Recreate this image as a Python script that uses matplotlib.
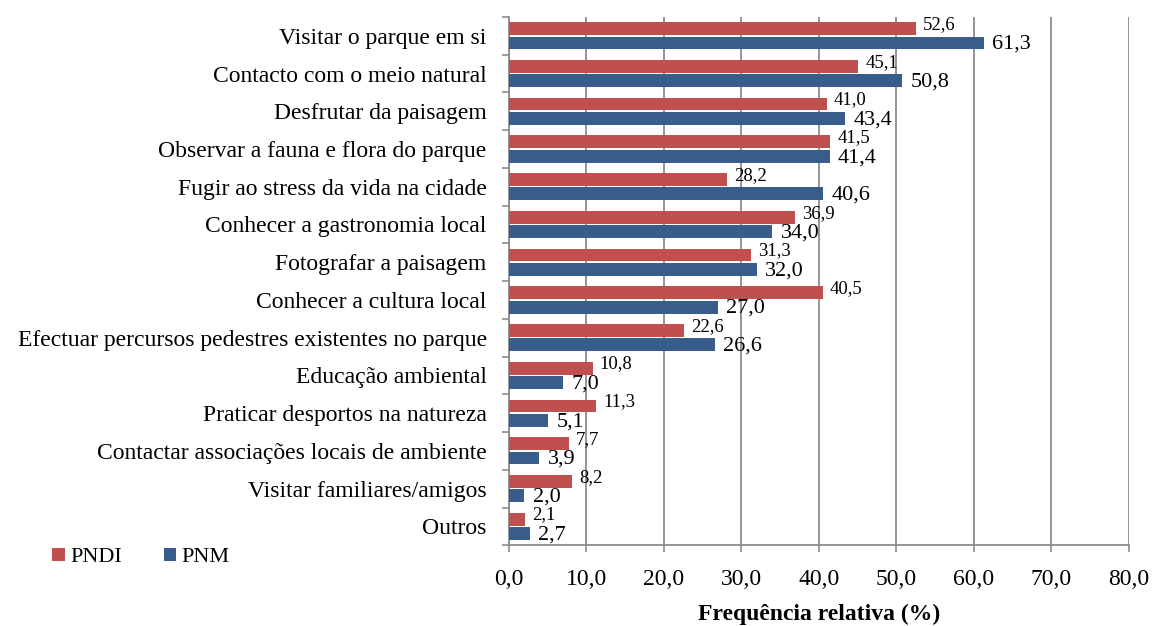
import numpy as np
import matplotlib.pyplot as plt

plt.rcParams['font.family'] = ['Liberation Serif', 'DejaVu Serif']

categorias = ["Visitar o parque em si", "Contacto com o meio natural", "Desfrutar da paisagem",
              "Observar a fauna e flora do parque", "Fugir ao stress da vida na cidade",
              "Conhecer a gastronomia local", "Fotografar a paisagem", "Conhecer a cultura local",
              "Efectuar percursos pedestres existentes no parque", "Educação ambiental",
              "Praticar desportos na natureza", "Contactar associações locais de ambiente",
              "Visitar familiares/amigos", "Outros"]
pndi = [52.6, 45.1, 41.0, 41.5, 28.2, 36.9, 31.3, 40.5, 22.6, 10.8, 11.3, 7.7, 8.2, 2.1]
pnm = [61.3, 50.8, 43.4, 41.4, 40.6, 34.0, 32.0, 27.0, 26.6, 7.0, 5.1, 3.9, 2.0, 2.7]

vermelho = '#C0504D'
azul = '#385D8A'
cinza = '#8C8C8C'

fig = plt.figure(figsize=(11.54, 6.26), dpi=100)
ax = fig.add_axes([0.441, 0.129, 0.537, 0.844])

y = np.arange(len(categorias))
h = 0.34
ax.barh(y - 0.19, pndi, height=h, color=vermelho, label='PNDI', zorder=3)
ax.barh(y + 0.19, pnm, height=h, color=azul, label='PNM', zorder=3)

def fmt(v):
    return f"{v:.1f}".replace('.', ',')

for i in range(len(categorias)):
    ax.annotate(fmt(pndi[i]), (pndi[i], y[i] - 0.19), xytext=(5, 3), textcoords='offset points',
                fontsize=13.5, va='center', ha='left', zorder=4)
    ax.annotate(fmt(pnm[i]), (pnm[i], y[i] + 0.19), xytext=(6, -1), textcoords='offset points',
                fontsize=16, va='center', ha='left', zorder=4)

ax.set_ylim(len(categorias) - 0.5, -0.5)
ax.set_xlim(0, 80)
ax.set_xticks(np.arange(0, 81, 10))
ax.set_xticklabels([fmt(v) for v in np.arange(0, 81, 10)], fontsize=17)
ax.set_yticks(y)
ax.set_yticklabels(categorias, fontsize=17)
ax.set_yticks(np.arange(-0.5, len(categorias), 1), minor=True)
ax.tick_params(axis='y', which='major', length=0, pad=16)
ax.tick_params(axis='y', which='minor', length=5, color=cinza, width=1.2)
ax.tick_params(axis='x', length=5, color=cinza, width=1.2, pad=12)

ax.grid(axis='x', color=cinza, linewidth=1.3, zorder=0)
for s in ['top', 'right']:
    ax.spines[s].set_visible(False)
for s in ['left', 'bottom']:
    ax.spines[s].set_color(cinza)
    ax.spines[s].set_linewidth(1.3)

ax.set_xlabel('Frequência relativa (%)', fontsize=17, fontweight='bold', labelpad=10)

fig.legend(loc='lower left', bbox_to_anchor=(0.028, 0.062), ncol=2, frameon=False, fontsize=16,
           handlelength=0.55, handleheight=0.55, columnspacing=1.9, handletextpad=0.25)

plt.savefig('out.png', dpi=100)
